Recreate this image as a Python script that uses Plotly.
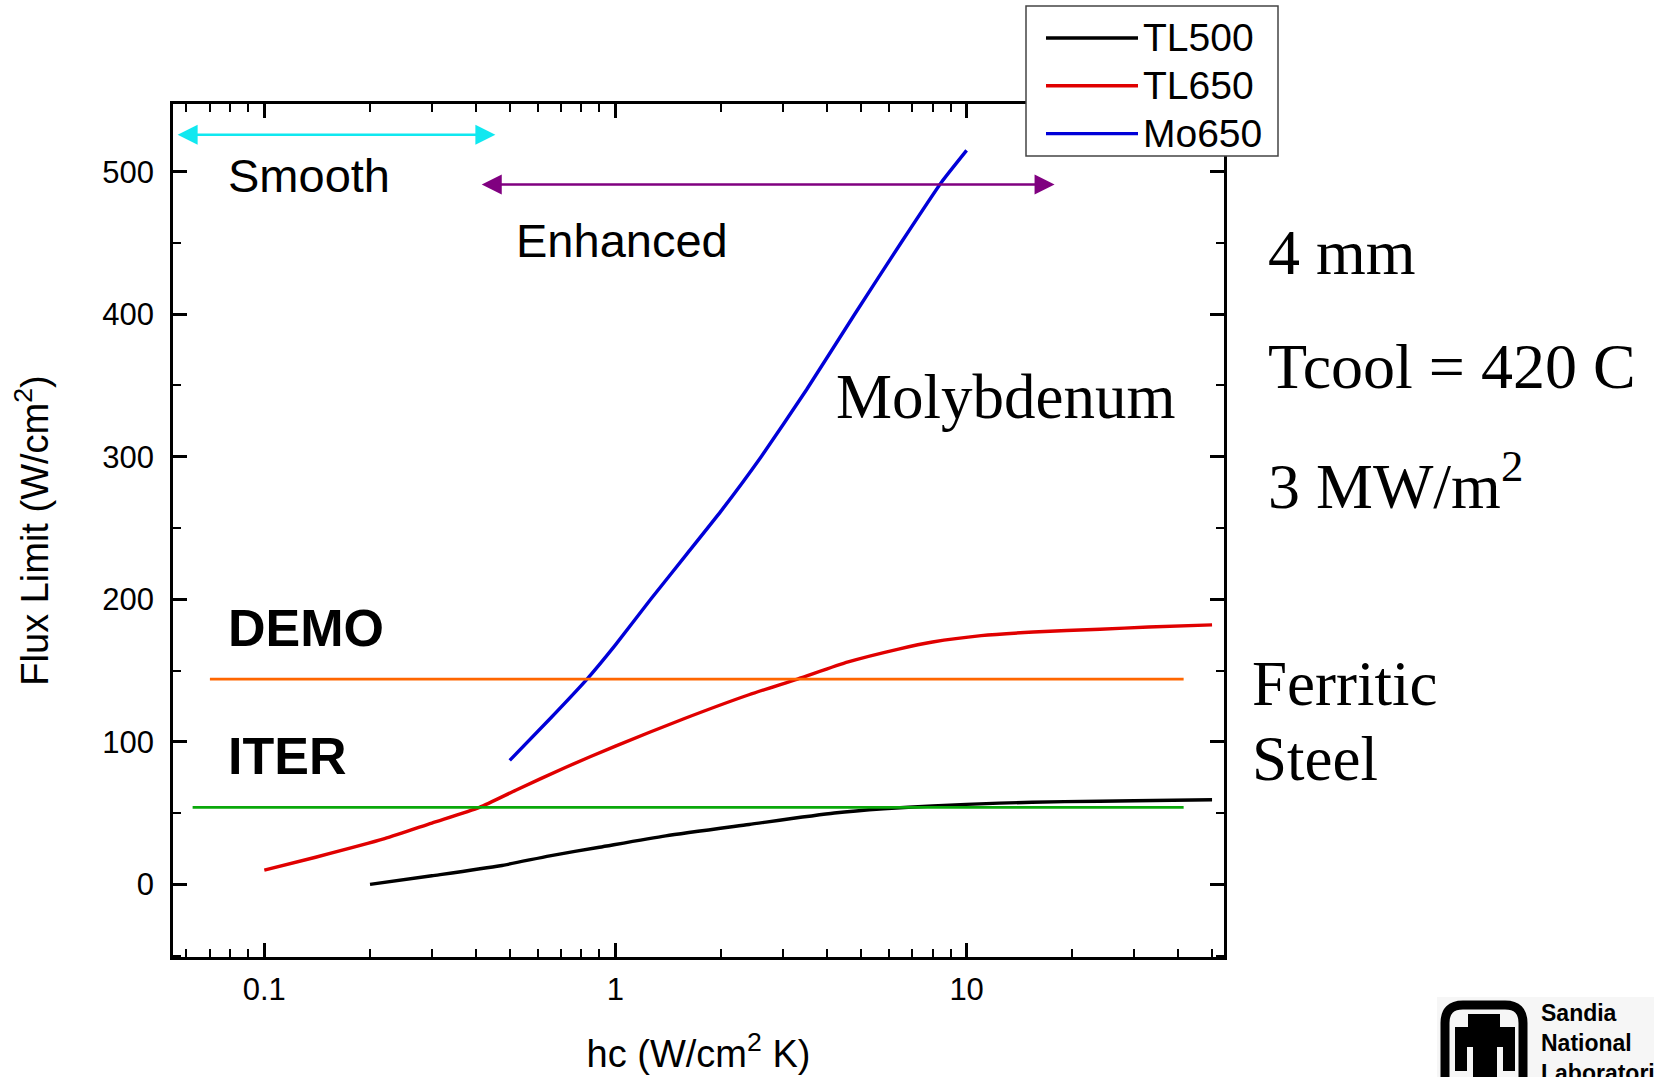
import math
import plotly.graph_objects as go

# ---------------- data ----------------
hc_tl500 = [0.2, 0.3, 0.47, 0.65, 0.9, 1.39, 2.4, 4.2, 5.8, 8.0, 12.4, 19, 30, 50]
flux_tl500 = [0, 6, 13, 20, 26, 34, 42, 50, 53, 55, 57, 58, 58.6, 59.3]

hc_tl650 = [0.1, 0.14, 0.22, 0.3, 0.41, 0.52, 0.72, 1.0, 1.56, 2.4, 3.3, 4.6, 6.4, 8.0, 11, 15.5, 24, 33, 50]
flux_tl650 = [10, 19, 32, 43, 54, 66, 82, 97, 116, 133, 144, 156, 165, 170, 174.5, 177, 179, 180.5, 182]

hc_mo650 = [0.5, 0.65, 0.83, 1.0, 1.26, 1.6, 2.0, 2.6, 3.5, 4.8, 6.5, 8.5, 10]
flux_mo650 = [87, 116, 144, 168, 200, 232, 262, 300, 347, 400, 450, 493, 515]

series_names = ["TL500", "TL650", "Mo650"]

demo_hc = [0.07, 41.5]
demo_flux = [144, 144]
iter_hc = [0.0625, 41.5]
iter_flux = [54, 54]

smooth_hc = [0.0561, 0.455]
smooth_flux = 526
enhanced_hc = [0.412, 17.8]
enhanced_flux = 491

x_major = [0.1, 1, 10]
x_major_text = ["0.1", "1", "10"]
x_minor = [0.06, 0.07, 0.08, 0.09,
           0.2, 0.3, 0.4, 0.5, 0.6, 0.7, 0.8, 0.9,
           2, 3, 4, 5, 6, 7, 8, 9,
           20, 30, 40, 50]

# ---------------- figure ----------------
W, H = 1654, 1077
ML, MR, MT, MB = 173, 430, 104, 120
PW, PH = W - ML - MR, H - MT - MB


def px(x):
    return (x - ML) / PW


def py(y):
    return (H - MB - y) / PH


SANS = "Liberation Sans, Arial, Helvetica, sans-serif"
SERIF = "Liberation Serif, Times New Roman, serif"

fig = go.Figure()


def lname(s):
    return "<span style='font-size:39px'>" + s + "</span>"


fig.add_trace(go.Scatter(x=hc_tl500, y=flux_tl500, name=lname(series_names[0]), mode="lines",
                         line=dict(color="black", width=3.4, shape="spline", smoothing=0.6)))
fig.add_trace(go.Scatter(x=hc_tl650, y=flux_tl650, name=lname(series_names[1]), mode="lines",
                         line=dict(color="#e00000", width=3.4, shape="spline", smoothing=0.6)))
fig.add_trace(go.Scatter(x=hc_mo650, y=flux_mo650, name=lname(series_names[2]), mode="lines",
                         line=dict(color="#0000d8", width=3.4, shape="spline", smoothing=0.4)))
fig.add_trace(go.Scatter(x=demo_hc, y=demo_flux, mode="lines", showlegend=False,
                         line=dict(color="#ff6600", width=2.7)))
fig.add_trace(go.Scatter(x=iter_hc, y=iter_flux, mode="lines", showlegend=False,
                         line=dict(color="#0aa80a", width=2.7)))

ann = []

# double headed arrows
for rng, yy, col in [(smooth_hc, smooth_flux, "#10e8f0"), (enhanced_hc, enhanced_flux, "#800080")]:
    ann.append(dict(x=math.log10(rng[1]), y=yy, ax=math.log10(rng[0]), ay=yy,
                    xref="x", yref="y", axref="x", ayref="y", text="",
                    showarrow=True, arrowhead=2, startarrowhead=2, arrowside="end+start",
                    arrowsize=1.6, startarrowsize=1.6, arrowwidth=2.5, arrowcolor=col,
                    standoff=0, startstandoff=0))


def txt(x, y, s, size, family=SANS, xref="x", yref="y", yanchor="middle", **fkw):
    ann.append(dict(x=x, y=y, xref=xref, yref=yref, text=s, showarrow=False,
                    xanchor="left", yanchor=yanchor, align="left",
                    font=dict(size=size, family=family, color="black", **fkw)))


txt(-1.109, 497, "Smooth", 47)
txt(-0.288, 452, "Enhanced", 47)
txt(-1.108, 180, "<b>DEMO</b>", 52)
txt(-1.108, 90, "<b>ITER</b>", 52)
txt(0.622, 342, "Molybdenum", 63, SERIF)

# texts right of the plot (paper coordinates)
txt(px(1266), py(253), "4 mm", 64, SERIF, "paper", "paper")
txt(px(1266), py(366), "Tcool = 420 C", 64, SERIF, "paper", "paper")
txt(px(1266), py(481), "3 MW/m<sup>2</sup>", 64, SERIF, "paper", "paper")
txt(px(1250), py(684), "Ferritic", 63, SERIF, "paper", "paper")
txt(px(1250), py(759), "Steel", 63, SERIF, "paper", "paper")

# Sandia logo text (one block, cut by the page edge as in the reference)
txt(px(1539), py(998), "<b>Sandia<br>National<br>Laboratories</b>", 23, SANS,
    "paper", "paper", yanchor="top")

shapes = []
# legend frame (covers the plot corner like the reference)
shapes.append(dict(type="rect", xref="paper", yref="paper", x0=px(1026), x1=px(1278),
                   y0=py(156), y1=py(6), fillcolor="white",
                   line=dict(color="#444", width=1.5), layer="above"))
# logo background
shapes.append(dict(type="rect", xref="paper", yref="paper", x0=px(1437), x1=px(1660),
                   y0=py(1085), y1=py(997), fillcolor="#f6f6f6", line=dict(width=0), layer="above"))
# rounded frame
r = 18
x0, x1, y0, y1 = 1445, 1523, 1005, 1100
path = (f"M {px(x0)},{py(y1)} L {px(x0)},{py(y0 + r)} "
        f"Q {px(x0)},{py(y0)} {px(x0 + r)},{py(y0)} L {px(x1 - r)},{py(y0)} "
        f"Q {px(x1)},{py(y0)} {px(x1)},{py(y0 + r)} L {px(x1)},{py(y1)}")
shapes.append(dict(type="path", xref="paper", yref="paper", path=path,
                   line=dict(color="black", width=9), layer="above"))
# thunderbird
for a, b, c, d in [(1468, 1500, 1014, 1029), (1455, 1515, 1027, 1047),
                   (1455, 1467, 1046, 1071), (1503, 1515, 1046, 1071),
                   (1473, 1497, 1046, 1090)]:
    shapes.append(dict(type="rect", xref="paper", yref="paper", x0=px(a), x1=px(b),
                       y0=py(d), y1=py(c), fillcolor="black", line=dict(width=0), layer="above"))

axis_common = dict(showgrid=False, zeroline=False, showline=True, linecolor="black",
                   linewidth=2.5, mirror="ticks", ticks="inside", tickwidth=2.5,
                   tickcolor="black", ticklen=14,
                   tickfont=dict(size=31, family=SANS, color="black"))

fig.update_layout(
    width=W, height=H,
    margin=dict(l=ML, r=MR, t=MT, b=MB, autoexpand=False),
    paper_bgcolor="white", plot_bgcolor="white",
    font=dict(family=SANS, color="black"),
    annotations=ann, shapes=shapes,
    legend=dict(x=px(1041), y=py(9), xanchor="left", yanchor="top",
                bgcolor="rgba(255,255,255,0)", borderwidth=0,
                font=dict(size=34.5, family=SANS, color="black"),
                itemwidth=92, tracegroupgap=0),
    xaxis=dict(type="log", range=[-1.26, 1.733], tickvals=x_major, ticktext=x_major_text,
               minor=dict(ticks="inside", ticklen=8, tickwidth=2, tickcolor="black",
                          tickvals=x_minor),
               title=dict(text="hc (W/cm<sup>2</sup> K)", font=dict(size=38, family=SANS),
                          standoff=35),
               ticklabelstandoff=3,
               **axis_common),
    yaxis=dict(range=[-51, 547.5], tick0=0, dtick=100,
               minor=dict(ticks="inside", ticklen=8, tickwidth=2, tickcolor="black", dtick=50,
                          tick0=0),
               title=dict(text="Flux Limit (W/cm<sup>2</sup>)", font=dict(size=38, family=SANS),
                          standoff=43),
               ticklabelstandoff=10,
               **axis_common),
)

fig.write_html("out.html")
